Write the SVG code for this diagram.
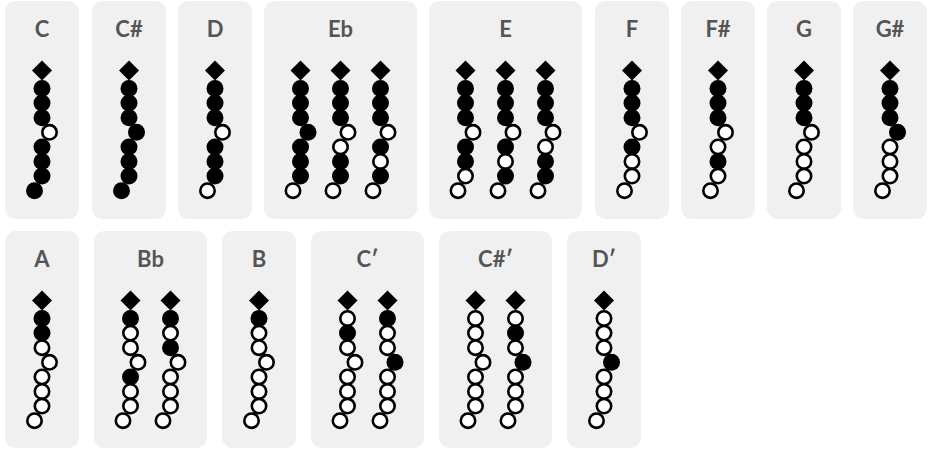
<svg xmlns="http://www.w3.org/2000/svg" xmlns:xlink="http://www.w3.org/1999/xlink" width="930" height="450" viewBox="0 0 930 450">
<style>
.card{fill:#f0f0f0}
.lbl{font-family:Lato,"Liberation Sans",sans-serif;font-weight:bold;font-size:22px;fill:#555;text-anchor:middle}
</style>
<defs>
<path id="dm" d="M0,-10 L10,0 L0,10 L-10,0Z" fill="#000"/>
<circle id="f" r="8.5" fill="#000"/>
<circle id="o" r="7.2" fill="#fff" stroke="#000" stroke-width="2.6"/>
</defs>
<rect width="930" height="450" fill="#fff"/>

<g id="card-C"><rect class="card" x="5" y="1" width="74" height="218" rx="11"/><text class="lbl" x="42" y="37">C</text>
<g transform="translate(42,1)"><use href="#dm" y="69.5"/><use href="#f" y="87.5"/><use href="#f" y="102.1"/><use href="#f" y="116.7"/><use href="#o" x="7.5" y="131.3"/><use href="#f" y="145.9"/><use href="#f" y="160.5"/><use href="#f" y="175.1"/><use href="#f" x="-7.5" y="189.7"/></g></g>

<g id="card-Cs"><rect class="card" x="92" y="1" width="74" height="218" rx="11"/><text class="lbl" x="129" y="37">C#</text>
<g transform="translate(129,1)"><use href="#dm" y="69.5"/><use href="#f" y="87.5"/><use href="#f" y="102.1"/><use href="#f" y="116.7"/><use href="#f" x="7.5" y="131.3"/><use href="#f" y="145.9"/><use href="#f" y="160.5"/><use href="#f" y="175.1"/><use href="#f" x="-7.5" y="189.7"/></g></g>

<g id="card-D"><rect class="card" x="178" y="1" width="74" height="218" rx="11"/><text class="lbl" x="215" y="37">D</text>
<g transform="translate(215,1)"><use href="#dm" y="69.5"/><use href="#f" y="87.5"/><use href="#f" y="102.1"/><use href="#f" y="116.7"/><use href="#o" x="7.5" y="131.3"/><use href="#f" y="145.9"/><use href="#f" y="160.5"/><use href="#f" y="175.1"/><use href="#o" x="-7.5" y="189.7"/></g></g>

<g id="card-Eb"><rect class="card" x="264" y="1" width="153" height="218" rx="11"/><text class="lbl" x="340.5" y="37">Eb</text>
<g transform="translate(300.5,1)"><use href="#dm" y="69.5"/><use href="#f" y="87.5"/><use href="#f" y="102.1"/><use href="#f" y="116.7"/><use href="#f" x="7.5" y="131.3"/><use href="#f" y="145.9"/><use href="#f" y="160.5"/><use href="#f" y="175.1"/><use href="#o" x="-7.5" y="189.7"/></g>
<g transform="translate(340.5,1)"><use href="#dm" y="69.5"/><use href="#f" y="87.5"/><use href="#f" y="102.1"/><use href="#f" y="116.7"/><use href="#o" x="7.5" y="131.3"/><use href="#o" y="145.9"/><use href="#f" y="160.5"/><use href="#f" y="175.1"/><use href="#o" x="-7.5" y="189.7"/></g>
<g transform="translate(380.5,1)"><use href="#dm" y="69.5"/><use href="#f" y="87.5"/><use href="#f" y="102.1"/><use href="#f" y="116.7"/><use href="#o" x="7.5" y="131.3"/><use href="#f" y="145.9"/><use href="#o" y="160.5"/><use href="#f" y="175.1"/><use href="#o" x="-7.5" y="189.7"/></g></g>

<g id="card-E"><rect class="card" x="429" y="1" width="153" height="218" rx="11"/><text class="lbl" x="505.5" y="37">E</text>
<g transform="translate(465.5,1)"><use href="#dm" y="69.5"/><use href="#f" y="87.5"/><use href="#f" y="102.1"/><use href="#f" y="116.7"/><use href="#o" x="7.5" y="131.3"/><use href="#f" y="145.9"/><use href="#f" y="160.5"/><use href="#o" y="175.1"/><use href="#o" x="-7.5" y="189.7"/></g>
<g transform="translate(505.5,1)"><use href="#dm" y="69.5"/><use href="#f" y="87.5"/><use href="#f" y="102.1"/><use href="#f" y="116.7"/><use href="#o" x="7.5" y="131.3"/><use href="#f" y="145.9"/><use href="#o" y="160.5"/><use href="#f" y="175.1"/><use href="#o" x="-7.5" y="189.7"/></g>
<g transform="translate(545.5,1)"><use href="#dm" y="69.5"/><use href="#f" y="87.5"/><use href="#f" y="102.1"/><use href="#f" y="116.7"/><use href="#o" x="7.5" y="131.3"/><use href="#o" y="145.9"/><use href="#f" y="160.5"/><use href="#f" y="175.1"/><use href="#o" x="-7.5" y="189.7"/></g></g>

<g id="card-F"><rect class="card" x="595" y="1" width="74" height="218" rx="11"/><text class="lbl" x="632" y="37">F</text>
<g transform="translate(632,1)"><use href="#dm" y="69.5"/><use href="#f" y="87.5"/><use href="#f" y="102.1"/><use href="#f" y="116.7"/><use href="#o" x="7.5" y="131.3"/><use href="#f" y="145.9"/><use href="#o" y="160.5"/><use href="#o" y="175.1"/><use href="#o" x="-7.5" y="189.7"/></g></g>

<g id="card-Fs"><rect class="card" x="681" y="1" width="74" height="218" rx="11"/><text class="lbl" x="718" y="37">F#</text>
<g transform="translate(718,1)"><use href="#dm" y="69.5"/><use href="#f" y="87.5"/><use href="#f" y="102.1"/><use href="#f" y="116.7"/><use href="#o" x="7.5" y="131.3"/><use href="#o" y="145.9"/><use href="#f" y="160.5"/><use href="#o" y="175.1"/><use href="#o" x="-7.5" y="189.7"/></g></g>

<g id="card-G"><rect class="card" x="767" y="1" width="74" height="218" rx="11"/><text class="lbl" x="804" y="37">G</text>
<g transform="translate(804,1)"><use href="#dm" y="69.5"/><use href="#f" y="87.5"/><use href="#f" y="102.1"/><use href="#f" y="116.7"/><use href="#o" x="7.5" y="131.3"/><use href="#o" y="145.9"/><use href="#o" y="160.5"/><use href="#o" y="175.1"/><use href="#o" x="-7.5" y="189.7"/></g></g>

<g id="card-Gs"><rect class="card" x="853" y="1" width="74" height="218" rx="11"/><text class="lbl" x="890" y="37">G#</text>
<g transform="translate(890,1)"><use href="#dm" y="69.5"/><use href="#f" y="87.5"/><use href="#f" y="102.1"/><use href="#f" y="116.7"/><use href="#f" x="7.5" y="131.3"/><use href="#o" y="145.9"/><use href="#o" y="160.5"/><use href="#o" y="175.1"/><use href="#o" x="-7.5" y="189.7"/></g></g>

<g id="card-A"><rect class="card" x="5" y="231" width="74" height="217" rx="11"/><text class="lbl" x="42" y="267">A</text>
<g transform="translate(42,231)"><use href="#dm" y="69.5"/><use href="#f" y="87.5"/><use href="#f" y="102.1"/><use href="#o" y="116.7"/><use href="#o" x="7.5" y="131.3"/><use href="#o" y="145.9"/><use href="#o" y="160.5"/><use href="#o" y="175.1"/><use href="#o" x="-7.5" y="189.7"/></g></g>

<g id="card-Bb"><rect class="card" x="94" y="231" width="113" height="217" rx="11"/><text class="lbl" x="150.5" y="267">Bb</text>
<g transform="translate(130.5,231)"><use href="#dm" y="69.5"/><use href="#f" y="87.5"/><use href="#o" y="102.1"/><use href="#o" y="116.7"/><use href="#o" x="7.5" y="131.3"/><use href="#f" y="145.9"/><use href="#o" y="160.5"/><use href="#o" y="175.1"/><use href="#o" x="-7.5" y="189.7"/></g>
<g transform="translate(170.5,231)"><use href="#dm" y="69.5"/><use href="#f" y="87.5"/><use href="#o" y="102.1"/><use href="#f" y="116.7"/><use href="#o" x="7.5" y="131.3"/><use href="#o" y="145.9"/><use href="#o" y="160.5"/><use href="#o" y="175.1"/><use href="#o" x="-7.5" y="189.7"/></g></g>

<g id="card-B"><rect class="card" x="222" y="231" width="74" height="217" rx="11"/><text class="lbl" x="259" y="267">B</text>
<g transform="translate(259,231)"><use href="#dm" y="69.5"/><use href="#f" y="87.5"/><use href="#o" y="102.1"/><use href="#o" y="116.7"/><use href="#o" x="7.5" y="131.3"/><use href="#o" y="145.9"/><use href="#o" y="160.5"/><use href="#o" y="175.1"/><use href="#o" x="-7.5" y="189.7"/></g></g>

<g id="card-C2"><rect class="card" x="311" y="231" width="113" height="217" rx="11"/><text class="lbl" x="367.5" y="267">C′</text>
<g transform="translate(347.5,231)"><use href="#dm" y="69.5"/><use href="#o" y="87.5"/><use href="#f" y="102.1"/><use href="#o" y="116.7"/><use href="#o" x="7.5" y="131.3"/><use href="#o" y="145.9"/><use href="#o" y="160.5"/><use href="#o" y="175.1"/><use href="#o" x="-7.5" y="189.7"/></g>
<g transform="translate(387.5,231)"><use href="#dm" y="69.5"/><use href="#f" y="87.5"/><use href="#o" y="102.1"/><use href="#o" y="116.7"/><use href="#f" x="7.5" y="131.3"/><use href="#o" y="145.9"/><use href="#o" y="160.5"/><use href="#o" y="175.1"/><use href="#o" x="-7.5" y="189.7"/></g></g>

<g id="card-Cs2"><rect class="card" x="439" y="231" width="113" height="217" rx="11"/><text class="lbl" x="495.5" y="267">C#′</text>
<g transform="translate(475.5,231)"><use href="#dm" y="69.5"/><use href="#o" y="87.5"/><use href="#o" y="102.1"/><use href="#o" y="116.7"/><use href="#o" x="7.5" y="131.3"/><use href="#o" y="145.9"/><use href="#o" y="160.5"/><use href="#o" y="175.1"/><use href="#o" x="-7.5" y="189.7"/></g>
<g transform="translate(515.5,231)"><use href="#dm" y="69.5"/><use href="#o" y="87.5"/><use href="#f" y="102.1"/><use href="#o" y="116.7"/><use href="#f" x="7.5" y="131.3"/><use href="#o" y="145.9"/><use href="#o" y="160.5"/><use href="#o" y="175.1"/><use href="#o" x="-7.5" y="189.7"/></g></g>

<g id="card-D2"><rect class="card" x="567" y="231" width="74" height="217" rx="11"/><text class="lbl" x="604" y="267">D′</text>
<g transform="translate(604,231)"><use href="#dm" y="69.5"/><use href="#o" y="87.5"/><use href="#o" y="102.1"/><use href="#o" y="116.7"/><use href="#f" x="7.5" y="131.3"/><use href="#o" y="145.9"/><use href="#o" y="160.5"/><use href="#o" y="175.1"/><use href="#o" x="-7.5" y="189.7"/></g></g>
</svg>
